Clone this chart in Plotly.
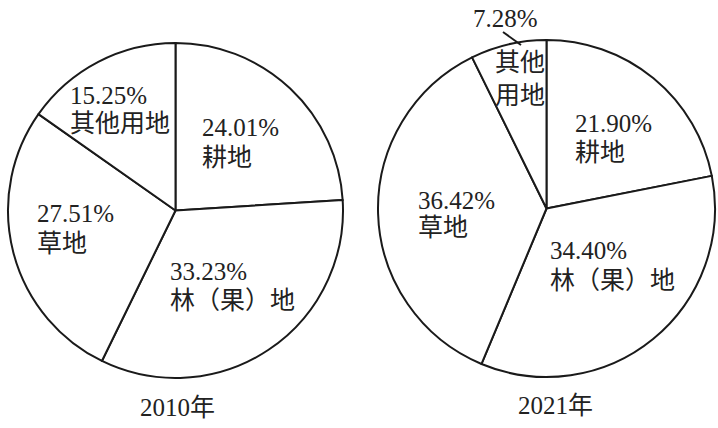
import plotly.graph_objects as go

# ---- data ----
categories = ["耕地", "林（果）地", "草地", "其他用地"]
values_2010 = [24.01, 33.23, 27.51, 15.25]
values_2021 = [21.90, 34.40, 36.42, 7.28]
years = ["2010年", "2021年"]

W, H = 718, 428
FONT = "Liberation Serif, Times New Roman, Noto Sans CJK SC, serif"
FS = 25


def px(x):
    return x / W


def py(y):
    return 1 - y / H


fig = go.Figure()

# pie geometry (pixel boxes)
pie_boxes = [(8, 43, 343, 378), (377.5, 40, 715.5, 377)]
for vals, box, yr in zip([values_2010, values_2021], pie_boxes, years):
    x0, y0, x1, y1 = box
    fig.add_trace(go.Pie(
        labels=categories, values=vals, sort=False, direction="clockwise",
        rotation=0, textinfo="none", hoverinfo="label+percent",
        marker=dict(colors=["white"] * 4, line=dict(color="#1a1a1a", width=2)),
        domain=dict(x=[px(x0), px(x1)], y=[py(y1), py(y0)]),
        showlegend=False, name=yr,
    ))

# label placement (left x, centre y of number line, centre y of name line) in pixels
pos_2010 = {
    "耕地": (202, 127, 157),
    "林（果）地": (170, 271, 300),
    "草地": (37, 213, 243),
    "其他用地": (70, 95, 123),
}
pos_2021 = {
    "耕地": (575, 123, 152),
    "林（果）地": (550, 250, 280),
    "草地": (418, 200, 228),
}

ann = []


def add_text(text, x, y, xanchor="left"):
    ann.append(dict(text=text, x=px(x), y=py(y), xref="paper", yref="paper",
                    xanchor=xanchor, yanchor="middle", showarrow=False,
                    align="left", font=dict(family=FONT, size=FS, color="#222")))


for cat, v in zip(categories, values_2010):
    x, yn, yl = pos_2010[cat]
    add_text(f"{v:.2f}%", x - 2, yn)
    add_text(cat, x - 2, yl)

for cat, v in zip(categories, values_2021):
    if cat in pos_2021:
        x, yn, yl = pos_2021[cat]
        add_text(f"{v:.2f}%", x - 2, yn)
        add_text(cat, x - 2, yl)
    else:
        # small slice: percentage outside with leader line, name stacked inside
        add_text(f"{v:.2f}%", 471, 19)
        add_text(cat[:2] + "<br>" + cat[2:], 493, 79)

add_text(years[0], 177, 407, xanchor="center")
add_text(years[1], 555, 405, xanchor="center")

fig.update_layout(
    width=W, height=H, margin=dict(l=0, r=0, t=0, b=0),
    paper_bgcolor="white", plot_bgcolor="white",
    annotations=ann,
    shapes=[dict(type="line", xref="paper", yref="paper",
                 x0=px(503), y0=py(32), x1=px(521), y1=py(45),
                 line=dict(color="#1a1a1a", width=2))],
)

fig.write_html("out.html", config={"displayModeBar": False},
               post_script="document.body.style.margin='0';document.body.style.overflow='hidden';")
